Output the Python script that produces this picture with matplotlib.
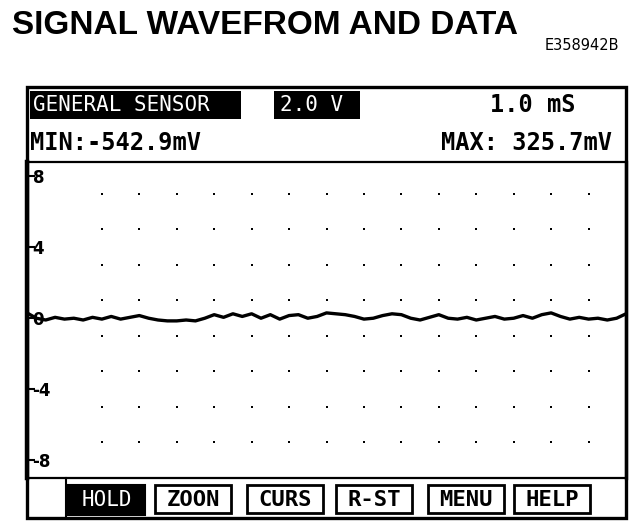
import numpy as np
import matplotlib.pyplot as plt
from matplotlib.patches import Rectangle

# scope readout
title = 'SIGNAL WAVEFROM AND DATA'
fig_code = 'E358942B'
mode_label = 'GENERAL SENSOR'
volt_div = '2.0 V'
time_div = '1.0 mS'
min_txt = 'MIN:-542.9mV'
max_txt = 'MAX: 325.7mV'
buttons = ['HOLD', 'ZOON', 'CURS', 'R-ST', 'MENU', 'HELP']

y_ticks = [-8, -4, 0, 4, 8]
y_ticklabels = ['-8', '-4', '0', '4', '8']
dot_cols = [2, 3, 4, 5, 6, 7, 8, 9, 10, 11, 12, 13, 14, 15]
dot_rows = [-7, -5, -3, -1, 1, 3, 5, 7]

# trace, volts, sampled across 16 divisions
trace_v = [0.30, 0.00, -0.10, 0.05, -0.05, 0.00, -0.10, 0.05, -0.05, 0.10,
           -0.05, 0.05, 0.15, 0.00, -0.10, -0.15, -0.15, -0.10, -0.15, 0.00,
           0.20, 0.05, 0.25, 0.10, 0.25, 0.00, 0.20, -0.05, 0.15, 0.20,
           0.00, 0.10, 0.30, 0.25, 0.20, 0.10, -0.05, 0.00, 0.15, 0.25,
           0.20, 0.00, -0.10, 0.05, 0.20, 0.00, -0.05, 0.05, -0.10, 0.00,
           0.10, -0.05, 0.00, 0.15, 0.00, 0.20, 0.30, 0.10, -0.05, 0.05,
           -0.05, 0.00, -0.10, 0.00, 0.25]
trace_t = np.linspace(0, 16, len(trace_v))

W, H = 640, 528
fig = plt.figure(figsize=(W / 100, H / 100), dpi=100)
bg = fig.add_axes([0, 0, 1, 1])
bg.set_xlim(0, W)
bg.set_ylim(H, 0)
bg.axis('off')

mono = 'DejaVu Sans Mono'

bg.text(12, 26, title, fontsize=24, fontweight='bold', family='Liberation Sans',
        va='center', ha='left')
bg.text(545, 45, fig_code, fontsize=10.5, family='DejaVu Sans', va='center', ha='left')

# outer frame
bg.add_patch(Rectangle((27, 87), 599, 431, fill=False, lw=2.4, ec='black'))

# header
bg.add_patch(Rectangle((30, 91), 211, 28, fc='black', ec='none'))
bg.text(33, 105, mode_label, color='white', fontsize=15, family=mono,
        va='center', ha='left')
bg.add_patch(Rectangle((274, 91), 86, 28, fc='black', ec='none'))
bg.text(280, 105, volt_div, color='white', fontsize=15, family=mono,
        va='center', ha='left')
bg.text(490, 105, time_div, fontsize=17, family=mono, fontweight='bold',
        va='center', ha='left')
bg.text(30, 143, min_txt, fontsize=17, family=mono, fontweight='bold',
        va='center', ha='left')
bg.text(612, 143, max_txt, fontsize=17, family=mono, fontweight='bold',
        va='center', ha='right')

# button bar
bg.plot([66, 66], [478, 518], color='black', lw=1.5)
btn_x = [68, 155, 247, 336, 428, 514]
for i, (lab, x0) in enumerate(zip(buttons, btn_x)):
    if i == 0:
        bg.add_patch(Rectangle((x0, 485), 77, 30, fc='black', ec='black', lw=1.5))
        bg.text(x0 + 38.5, 500, lab, color='white', fontsize=15, family=mono,
                va='center', ha='center')
    else:
        bg.add_patch(Rectangle((x0, 485), 76, 28, fc='white', ec='black', lw=2))
        bg.text(x0 + 38, 499.5, lab, fontsize=16, family=mono, fontweight='bold',
                va='center', ha='center')

# waveform area
ax = fig.add_axes([27 / W, (H - 478) / H, (626 - 27) / W, (478 - 162) / H])
ax.set_facecolor('none')
ax.set_xlim(0, 16)
ax.set_ylim(-9.0, 8.8)
for s in ['top', 'bottom']:
    ax.spines[s].set_linewidth(1.6)
ax.spines['left'].set_linewidth(3.2)
ax.spines['right'].set_linewidth(2.4)

gx, gy = np.meshgrid(dot_cols, dot_rows)
ax.scatter(gx.ravel(), gy.ravel(), s=3.5, color='black', marker='s', lw=0)
ax.plot(trace_t, trace_v, color='black', lw=2.4)

ax.set_xticks([])
ax.set_yticks(y_ticks)
ax.set_yticklabels(y_ticklabels)
ax.tick_params(axis='y', direction='in', length=6, width=1.5, pad=-4,
               labelsize=12)
for lab in ax.get_yticklabels():
    lab.set_horizontalalignment('left')
    lab.set_fontweight('bold')

fig.savefig('out.png', dpi=100)
